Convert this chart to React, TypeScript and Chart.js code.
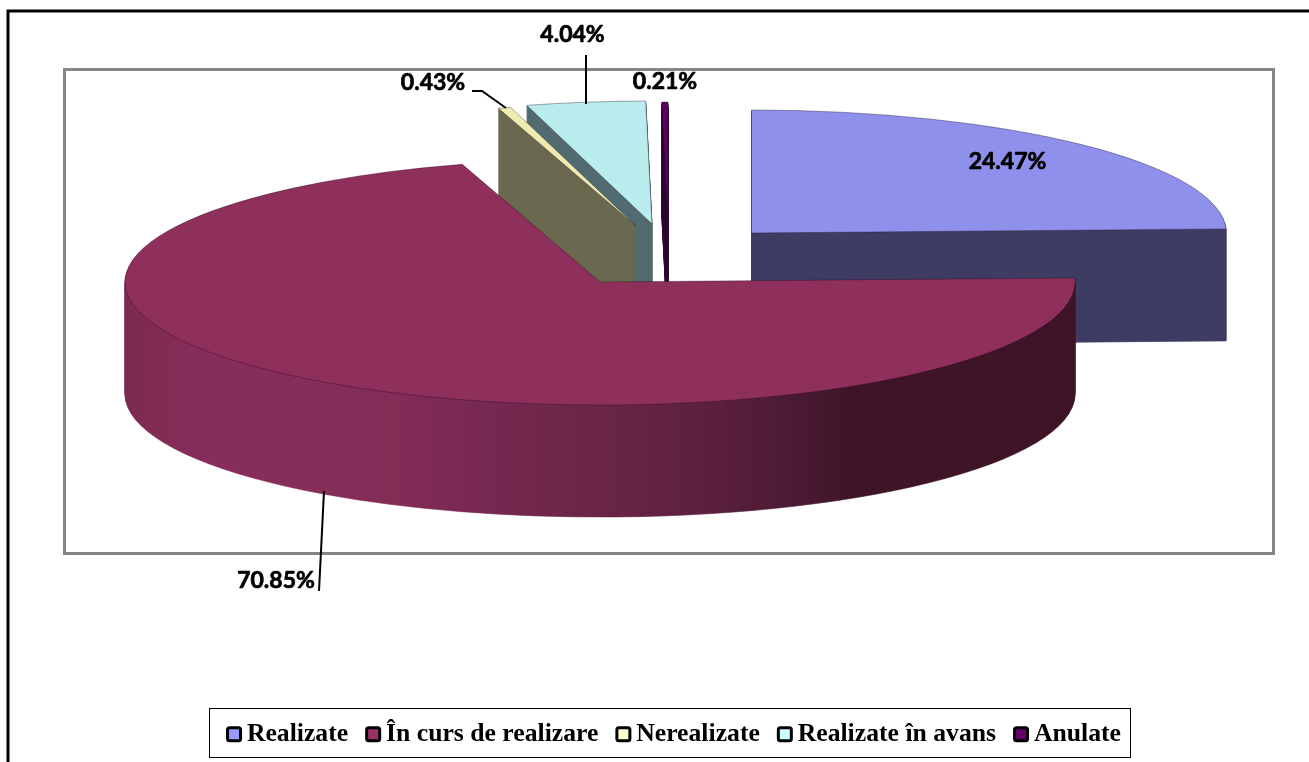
import React, { useEffect, useRef } from "react";
import { Chart, registerables } from "chart.js";

Chart.register(...registerables);

const categories = ["Realizate", "În curs de realizare", "Nerealizate", "Realizate în avans", "Anulate"];
const values = [24.47, 70.85, 0.43, 4.04, 0.21];

const topColors = ["#8F8FEC", "#8E2F5C", "#EFEBB0", "#B9ECEC", "#5F0060"];
const wallColors = ["#3F3D64", "#8E2F5C", "#6A6950", "#516B70", "#2A0A30"];
const legendColors = ["#9999FF", "#993366", "#FFFFCC", "#CCFFFF", "#660066"];

const RADIUS = 475;
const FLATTEN = 0.259;
const DEPTH = 112;
const CENTER = { x: 600, y: 282 };
// how far each slice is pulled out of the pie, in pixels on screen
const EXPLODE = [
  { x: 151.5, y: -49 },
  { x: 0, y: 0 },
  { x: 36, y: -56 },
  { x: 52, y: -58 },
  { x: 68, y: -57 },
];
const PAINT_ORDER = [0, 3, 4, 2, 1];

const LABELS = [
  { x: 1007.5, y: 162 },
  { x: 276, y: 581 },
  { x: 433, y: 83 },
  { x: 572.5, y: 35 },
  { x: 665, y: 82 },
];
const LEADERS = [
  [],
  [[319, 591], [324, 491]],
  [[472, 91], [482, 91], [506, 108]],
  [[586, 55], [586, 104]],
  [],
];

const MAIN_WALL_STOPS: [number, string][] = [
  [0, "#7C2A51"],
  [0.08, "#872D59"],
  [0.2, "#872D59"],
  [0.29, "#822C56"],
  [0.39, "#752850"],
  [0.5, "#6A2545"],
  [0.6, "#5E2140"],
  [0.71, "#4A1A32"],
  [0.77, "#3E1426"],
  [1, "#3E1426"],
];

const pie3d = {
  id: "pie3d",
  beforeDraw(chart: any) {
    const { ctx } = chart;
    ctx.save();
    ctx.fillStyle = "#FFFFFF";
    ctx.fillRect(0, 0, chart.width, chart.height);
    ctx.strokeStyle = "#000000";
    ctx.lineWidth = 3;
    ctx.beginPath();
    ctx.moveTo(8, 770);
    ctx.lineTo(8, 11);
    ctx.lineTo(1320, 11);
    ctx.stroke();
    ctx.strokeStyle = "#868686";
    ctx.strokeRect(64.5, 69.5, 1209, 484);
    ctx.restore();
  },
  beforeDatasetDraw(chart: any, args: any) {
    const { ctx } = chart;
    const arcs = args.meta.data;
    PAINT_ORDER.forEach((i) => {
      const arc = arcs[i];
      const base = arc.options;
      const tx = CENTER.x + EXPLODE[i].x;
      const ty = CENTER.y + EXPLODE[i].y;
      let wall: any = wallColors[i];
      if (i === 1) {
        wall = ctx.createLinearGradient(arc.x - RADIUS, 0, arc.x + RADIUS, 0);
        MAIN_WALL_STOPS.forEach(([p, c]) => wall.addColorStop(p, c));
      }
      arc.options = { ...base, backgroundColor: wall, borderColor: wall, borderWidth: 1 };
      for (let d = DEPTH; d >= 1; d--) {
        ctx.save();
        ctx.translate(tx, ty + d);
        ctx.scale(1, FLATTEN);
        ctx.translate(-arc.x, -arc.y);
        arc.draw(ctx);
        ctx.restore();
      }
      arc.options = base;
      ctx.save();
      ctx.translate(tx, ty);
      ctx.scale(1, FLATTEN);
      ctx.translate(-arc.x, -arc.y);
      arc.draw(ctx);
      ctx.restore();
    });
    return false;
  },
  afterDatasetsDraw(chart: any) {
    const { ctx } = chart;
    ctx.save();
    ctx.strokeStyle = "#000000";
    ctx.lineWidth = 2;
    LEADERS.forEach((pts) => {
      if (!pts.length) return;
      ctx.beginPath();
      pts.forEach(([x, y], k) => (k ? ctx.lineTo(x, y) : ctx.moveTo(x, y)));
      ctx.stroke();
    });
    ctx.fillStyle = "#000000";
    ctx.font = "bold 23px Lato";
    ctx.textAlign = "center";
    ctx.textBaseline = "middle";
    ctx.lineWidth = 0.7;
    ctx.lineJoin = "round";
    values.forEach((v, i) => {
      const t = v.toFixed(2) + "%";
      ctx.fillText(t, LABELS[i].x, LABELS[i].y);
      ctx.strokeText(t, LABELS[i].x, LABELS[i].y);
    });
    ctx.restore();
  },
  afterDraw(chart: any) {
    const { ctx, legend } = chart;
    ctx.save();
    ctx.strokeStyle = "#000000";
    ctx.lineWidth = 1;
    ctx.strokeRect(209.5, 708.5, 921, 49);
    // legend swatches sit on Chart.js' own legend layout
    legend.legendHitBoxes.forEach((box: any, i: number) => {
      const size = 13;
      const midY = box.top + box.height / 2;
      ctx.beginPath();
      ctx.roundRect(box.left + 1.5, midY - size / 2, size, size, 2);
      ctx.fillStyle = legendColors[i];
      ctx.fill();
      ctx.lineWidth = 3;
      ctx.stroke();
    });
    ctx.restore();
  },
};

export default function App() {
  const ref = useRef<HTMLCanvasElement>(null);
  useEffect(() => {
    document.body.style.margin = "0";
    const chart = new Chart(ref.current as HTMLCanvasElement, {
      type: "pie",
      data: {
        labels: categories,
        datasets: [
          {
            data: values,
            backgroundColor: topColors,
            borderColor: "rgba(30,10,30,0.55)",
            borderWidth: 1,
          },
        ],
      },
      options: {
        responsive: false,
        animation: false,
        radius: RADIUS,
        layout: { padding: { bottom: 5, left: 38 } },
        plugins: {
          tooltip: { enabled: false },
          title: { display: false },
          legend: {
            display: true,
            position: "bottom",
            labels: {
              boxWidth: 8,
              boxHeight: 13,
              padding: 17,
              color: "#000000",
              font: { family: "'Liberation Serif'", size: 25.7, weight: "bold" },
              generateLabels: () =>
                categories.map((text, i) => ({
                  text,
                  index: i,
                  fillStyle: "rgba(0,0,0,0)",
                  strokeStyle: "rgba(0,0,0,0)",
                  lineWidth: 0,
                  fontColor: "#000000",
                  hidden: false,
                })),
            },
          },
        },
      } as any,
      plugins: [pie3d],
    });
    return () => chart.destroy();
  }, []);
  return <canvas ref={ref} width={1309} height={762} style={{ display: "block" }} />;
}
